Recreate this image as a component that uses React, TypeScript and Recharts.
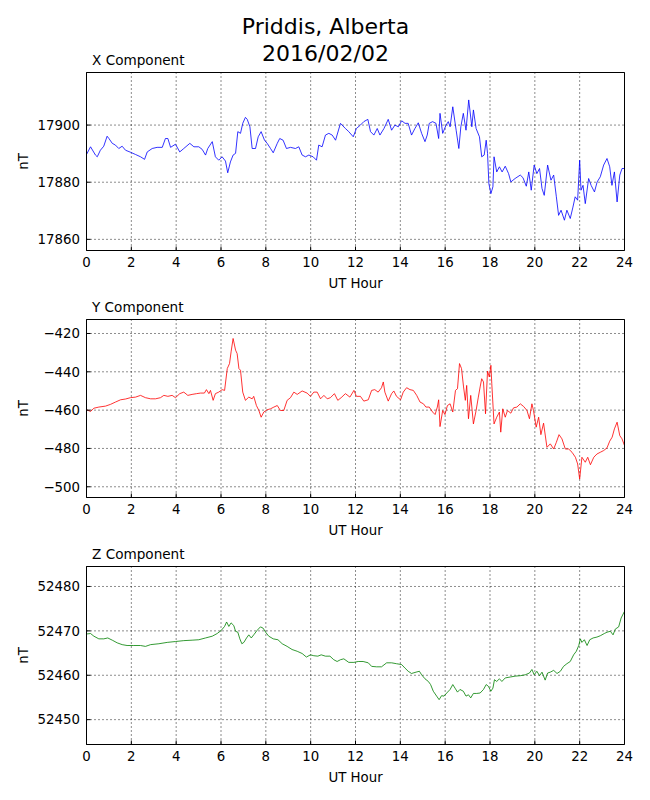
import React from 'react';
import { LineChart, Line, XAxis, YAxis, CartesianGrid } from 'recharts';

// ---------- data ----------
const hourTicks = [0, 2, 4, 6, 8, 10, 12, 14, 16, 18, 20, 22, 24];
const minorHourTicks = [1, 3, 5, 7, 9, 11, 13, 15, 17, 19, 21, 23];

const xTicks = [17860, 17880, 17900];
const yTicks = [-500, -480, -460, -440, -420];
const zTicks = [52450, 52460, 52470, 52480];

const xHours = [
  0.0, 0.18, 0.4, 0.48, 0.62, 0.77, 0.92, 1.0, 1.15, 1.29, 1.44, 1.59, 1.74, 1.96, 2.19, 2.41, 2.59, 2.71, 2.93,
  3.15, 3.38, 3.52, 3.63, 3.75, 3.97, 4.16, 4.34, 4.61, 4.79, 5.01, 5.16, 5.31, 5.41, 5.61, 5.75, 5.9, 6.05, 6.2,
  6.3, 6.42, 6.54, 6.65, 6.75, 6.87, 6.97, 7.09, 7.17, 7.29, 7.39, 7.54, 7.66, 7.79, 7.94, 8.06, 8.21, 8.33, 8.51,
  8.62, 8.77, 8.92, 9.1, 9.32, 9.47, 9.62, 9.77, 9.92, 10.11, 10.26, 10.36, 10.51, 10.66, 10.81, 10.96, 11.11,
  11.33, 11.55, 11.7, 11.9, 12.04, 12.22, 12.37, 12.55, 12.67, 12.82, 12.97, 13.09, 13.27, 13.46, 13.61, 13.76,
  13.91, 14.06, 14.21, 14.35, 14.5, 14.65, 14.8, 14.95, 15.1, 15.2, 15.29, 15.44, 15.59, 15.71, 15.77, 15.89,
  16.04, 16.14, 16.22, 16.34, 16.49, 16.61, 16.7, 16.81, 16.93, 17.05, 17.19, 17.26, 17.38, 17.53, 17.63, 17.74,
  17.83, 17.89, 17.95, 18.04, 18.13, 18.18, 18.3, 18.42, 18.54, 18.68, 18.83, 18.93, 19.12, 19.35, 19.47, 19.62,
  19.73, 19.84, 19.97, 20.09, 20.21, 20.32, 20.42, 20.57, 20.72, 20.84, 20.96, 21.06, 21.17, 21.32, 21.43, 21.58,
  21.7, 21.8, 21.91, 22.0, 22.06, 22.15, 22.25, 22.4, 22.51, 22.66, 22.78, 22.92, 23.07, 23.22, 23.34, 23.44,
  23.55, 23.67, 23.79, 23.89, 24.0,
];
const xValues = [
  17889.7, 17892.4, 17889.5, 17888.9, 17891.2, 17892.6, 17896.1, 17895.3, 17893.6, 17893.0, 17891.8, 17892.6,
  17891.2, 17890.5, 17889.7, 17888.9, 17888.0, 17890.6, 17891.8, 17892.2, 17892.2, 17895.3, 17895.3, 17892.2,
  17893.3, 17890.6, 17891.8, 17893.6, 17892.4, 17892.4, 17891.5, 17889.5, 17891.8, 17894.2, 17888.9, 17887.7,
  17888.9, 17887.4, 17883.3, 17887.1, 17889.5, 17890.1, 17897.7, 17897.1, 17900.6, 17902.7, 17902.0, 17899.4,
  17891.8, 17891.8, 17895.9, 17897.7, 17894.7, 17893.6, 17891.8, 17890.3, 17893.6, 17895.3, 17894.7, 17891.8,
  17892.2, 17891.8, 17892.4, 17889.5, 17888.9, 17889.5, 17888.9, 17887.7, 17893.0, 17892.4, 17896.5, 17897.1,
  17896.5, 17894.7, 17900.6, 17898.8, 17897.7, 17895.9, 17898.8, 17900.0, 17901.2, 17902.0, 17897.7, 17896.5,
  17898.8, 17896.5, 17898.8, 17902.0, 17898.2, 17900.0, 17899.4, 17901.5, 17900.6, 17900.6, 17896.5, 17898.8,
  17900.8, 17897.1, 17894.2, 17896.5, 17900.6, 17901.2, 17900.6, 17895.3, 17904.1, 17897.1, 17900.0, 17901.2,
  17899.4, 17906.4, 17898.2, 17891.8, 17899.4, 17904.1, 17898.2, 17908.8, 17899.4, 17905.3, 17898.8, 17895.9,
  17888.9, 17889.5, 17894.7, 17890.1, 17879.5, 17876.0, 17878.4, 17888.9, 17883.6, 17885.4, 17883.6, 17885.6,
  17883.0, 17880.1, 17881.3, 17882.5, 17881.6, 17878.6, 17883.6, 17877.2, 17886.0, 17883.0, 17884.8, 17877.8,
  17875.4, 17886.0, 17880.7, 17882.5, 17874.9, 17868.4, 17870.2, 17866.7, 17870.2, 17867.3, 17871.3, 17874.9,
  17873.7, 17887.7, 17877.2, 17878.9, 17872.5, 17881.3, 17878.9, 17876.6, 17880.1, 17881.9, 17886.0, 17888.3,
  17885.4, 17878.9, 17883.6, 17873.1, 17882.5, 17884.8, 17884.8,
];

const yHours = [
  0.0, 0.18, 0.33, 0.55, 0.85, 1.07, 1.29, 1.52, 1.74, 1.96, 2.19, 2.41, 2.63, 2.86, 3.08, 3.3, 3.45, 3.63, 3.82,
  3.97, 4.16, 4.34, 4.52, 4.71, 4.91, 5.09, 5.26, 5.35, 5.46, 5.53, 5.65, 5.75, 5.9, 6.05, 6.16, 6.28, 6.38, 6.45,
  6.54, 6.65, 6.72, 6.8, 6.87, 6.97, 7.09, 7.24, 7.39, 7.46, 7.58, 7.69, 7.79, 7.91, 8.06, 8.21, 8.36, 8.51, 8.65,
  8.8, 8.95, 9.1, 9.25, 9.4, 9.62, 9.84, 9.99, 10.14, 10.29, 10.44, 10.59, 10.74, 10.88, 11.06, 11.21, 11.36,
  11.55, 11.75, 11.93, 12.04, 12.22, 12.37, 12.57, 12.72, 12.86, 13.01, 13.16, 13.24, 13.31, 13.46, 13.61, 13.71,
  13.83, 14.01, 14.13, 14.28, 14.43, 14.58, 14.73, 14.88, 15.03, 15.14, 15.29, 15.44, 15.55, 15.65, 15.71, 15.77,
  15.89, 15.99, 16.1, 16.22, 16.34, 16.46, 16.55, 16.64, 16.73, 16.82, 16.9, 16.96, 17.04, 17.14, 17.26, 17.38,
  17.48, 17.56, 17.63, 17.71, 17.8, 17.89, 17.97, 18.04, 18.08, 18.18, 18.3, 18.42, 18.48, 18.57, 18.68, 18.78,
  18.93, 19.05, 19.2, 19.35, 19.5, 19.65, 19.76, 19.87, 19.94, 20.06, 20.17, 20.27, 20.39, 20.54, 20.69, 20.84,
  20.96, 21.08, 21.21, 21.36, 21.51, 21.66, 21.81, 21.91, 22.0, 22.1, 22.25, 22.36, 22.48, 22.63, 22.77, 22.92,
  23.07, 23.22, 23.34, 23.45, 23.55, 23.67, 23.79, 23.89, 24.0,
];
const yValues = [
  -459.8, -460.7, -459.0, -458.4, -457.9, -457.0, -455.8, -454.6, -454.2, -453.5, -453.2, -452.3, -453.5, -454.1,
  -454.1, -453.5, -452.3, -452.8, -452.3, -453.5, -451.4, -450.6, -452.3, -451.8, -451.4, -451.1, -451.1, -449.3,
  -451.4, -449.7, -454.9, -451.4, -450.6, -449.3, -449.7, -438.3, -435.7, -429.6, -422.6, -428.7, -430.5, -438.3,
  -439.2, -450.6, -454.9, -453.2, -454.1, -452.8, -457.6, -460.2, -463.7, -461.0, -459.8, -459.3, -458.4, -457.6,
  -460.2, -460.2, -454.9, -453.5, -450.6, -451.8, -450.0, -451.1, -452.8, -450.6, -450.6, -454.1, -452.3, -454.1,
  -453.5, -451.4, -454.9, -453.5, -451.4, -453.2, -449.7, -452.8, -452.8, -455.3, -454.6, -449.7, -449.3, -450.6,
  -448.3, -445.3, -450.6, -455.3, -451.4, -450.0, -452.8, -454.6, -450.6, -448.3, -449.3, -449.7, -452.3, -455.8,
  -456.7, -458.4, -458.4, -461.0, -462.3, -458.4, -454.6, -468.6, -460.2, -462.3, -457.6, -456.7, -461.0, -449.7,
  -448.8, -435.7, -438.3, -447.9, -454.9, -447.1, -464.5, -452.3, -467.2, -460.2, -453.2, -447.9, -443.6, -445.3,
  -461.9, -439.6, -442.7, -436.6, -446.2, -467.2, -463.7, -461.0, -471.5, -459.3, -463.7, -460.2, -461.6, -458.8,
  -458.4, -456.7, -458.1, -460.2, -464.5, -456.7, -460.2, -468.9, -463.7, -472.8, -466.8, -479.4, -477.6, -480.3,
  -476.8, -472.8, -475.0, -480.3, -480.3, -482.0, -484.6, -488.1, -496.0, -484.6, -487.2, -484.6, -488.5, -484.6,
  -482.9, -482.0, -481.1, -479.7, -476.2, -474.1, -469.8, -466.3, -473.3, -475.0, -478.5,
];

const zHours = [
  0.0, 0.18, 0.33, 0.55, 0.77, 0.95, 1.15, 1.37, 1.59, 1.81, 2.11, 2.41, 2.63, 2.86, 3.23, 3.6, 3.97, 4.34, 4.71,
  5.01, 5.31, 5.61, 5.83, 6.01, 6.16, 6.25, 6.35, 6.45, 6.57, 6.65, 6.75, 6.84, 6.93, 7.02, 7.14, 7.24, 7.35, 7.46,
  7.61, 7.76, 7.88, 7.99, 8.13, 8.33, 8.54, 8.73, 8.95, 9.17, 9.4, 9.62, 9.81, 9.99, 10.14, 10.32, 10.47, 10.66,
  10.86, 11.03, 11.18, 11.33, 11.48, 11.7, 11.93, 12.12, 12.34, 12.57, 12.72, 12.94, 13.16, 13.39, 13.61, 13.83,
  14.06, 14.21, 14.35, 14.5, 14.7, 14.85, 14.95, 15.1, 15.25, 15.35, 15.47, 15.62, 15.73, 15.84, 15.95, 16.07,
  16.22, 16.34, 16.44, 16.55, 16.66, 16.81, 16.93, 17.04, 17.14, 17.26, 17.41, 17.56, 17.71, 17.83, 17.93, 18.04,
  18.13, 18.2, 18.3, 18.42, 18.53, 18.68, 18.9, 19.12, 19.35, 19.57, 19.76, 19.87, 19.97, 20.09, 20.21, 20.32,
  20.46, 20.57, 20.69, 20.84, 20.99, 21.14, 21.28, 21.43, 21.58, 21.73, 21.85, 21.96, 22.03, 22.1, 22.21, 22.33,
  22.45, 22.6, 22.77, 22.92, 23.1, 23.22, 23.37, 23.49, 23.59, 23.74, 23.85, 24.0,
];
const zValues = [
  52469.3, 52469.4, 52468.8, 52468.2, 52468.2, 52468.4, 52467.9, 52467.3, 52466.9, 52466.7, 52466.7, 52466.7,
  52466.5, 52466.9, 52467.1, 52467.4, 52467.6, 52467.8, 52467.9, 52468.0, 52468.4, 52468.8, 52469.4, 52470.1,
  52471.0, 52472.0, 52471.0, 52471.8, 52471.2, 52469.9, 52469.7, 52468.2, 52467.1, 52467.4, 52468.4, 52469.1,
  52468.4, 52469.1, 52470.1, 52470.9, 52470.6, 52469.7, 52468.8, 52468.2, 52468.0, 52467.1, 52466.5, 52465.8,
  52465.4, 52464.9, 52464.1, 52464.6, 52464.4, 52464.3, 52464.6, 52464.3, 52464.3, 52463.5, 52463.1, 52463.5,
  52463.7, 52462.9, 52462.9, 52463.1, 52463.1, 52462.8, 52462.0, 52461.9, 52461.9, 52462.8, 52462.8, 52462.6,
  52462.4, 52461.6, 52460.9, 52460.4, 52460.7, 52460.9, 52460.1, 52459.2, 52458.6, 52457.9, 52456.4, 52455.3,
  52454.5, 52455.4, 52455.3, 52456.0, 52456.8, 52457.9, 52457.1, 52456.2, 52456.8, 52456.4, 52455.3, 52455.6,
  52454.9, 52455.9, 52455.9, 52456.0, 52456.8, 52457.9, 52457.5, 52456.4, 52457.1, 52459.0, 52458.6, 52459.2,
  52458.6, 52459.4, 52459.6, 52459.8, 52459.9, 52460.1, 52460.5, 52461.3, 52460.1, 52460.9, 52459.9, 52460.7,
  52458.9, 52460.5, 52460.7, 52461.1, 52460.4, 52460.9, 52462.0, 52462.6, 52463.1, 52464.6, 52465.4, 52466.7,
  52468.2, 52467.4, 52468.0, 52466.7, 52468.0, 52468.4, 52468.6, 52468.9, 52469.4, 52469.7, 52469.9, 52469.1,
  52470.4, 52470.9, 52472.9, 52474.4,
];

// ---------- helpers ----------
const toRows = (hours: number[], values: number[]) => hours.map((h, i) => ({ h, v: values[i] }));
const xData = toRows(xHours, xValues);
const yData = toRows(yHours, yValues);
const zData = toRows(zHours, zValues);

const FONT = 'DejaVu Sans';
const FS = 13.33;
const W = 650;
const H = 300;
const TINY = 0.001;
const MARGIN = { top: 72.5 - 2 * TINY, bottom: 49.5 - 2 * TINY, left: 86.5 - TINY, right: 25.5 - TINY };

const fmt = (v: number) => String(v).replace('-', '\u2212');

const NtLabel = () => (
  <text
    x={27.5}
    y={161.5}
    transform="rotate(-90 27.5 161.5)"
    textAnchor="middle"
    fontSize={FS}
    fontFamily={FONT}
    fill="#000"
  >
    nT
  </text>
);

type PanelProps = {
  data: { h: number; v: number }[];
  domain: [number, number];
  ticks: number[];
  color: string;
  top: number;
};

const Panel = ({ data, domain, ticks, color, top }: PanelProps) => (
  <div style={{ position: 'absolute', left: 0, top }}>
    <LineChart width={W} height={H} data={data} margin={MARGIN}>
      <CartesianGrid stroke="#000" strokeWidth={0.9} strokeDasharray="1 3" />
      <XAxis
        dataKey="h"
        type="number"
        domain={[0, 24]}
        ticks={hourTicks}
        height={TINY}
        tickSize={-4}
        tickMargin={11.3}
        interval={0}
        axisLine={{ stroke: '#000', strokeWidth: 1 }}
        tickLine={{ stroke: '#000', strokeWidth: 1 }}
        tick={{ fill: '#000', fontSize: FS, fontFamily: FONT }}
        label={{ value: 'UT Hour', position: 'bottom', offset: 28.5, fill: '#000', fontSize: FS, fontFamily: FONT }}
      />
      <XAxis
        xAxisId="minor"
        dataKey="h"
        type="number"
        domain={[0, 24]}
        ticks={minorHourTicks}
        height={TINY}
        tickSize={-2}
        interval={0}
        axisLine={false}
        tickLine={{ stroke: '#000', strokeWidth: 1 }}
        tick={false}
      />
      <XAxis
        xAxisId="top"
        orientation="top"
        dataKey="h"
        type="number"
        domain={[0, 24]}
        ticks={hourTicks}
        height={TINY}
        tickSize={-4}
        interval={0}
        axisLine={{ stroke: '#000', strokeWidth: 1 }}
        tickLine={{ stroke: '#000', strokeWidth: 1 }}
        tick={false}
      />
      <XAxis
        xAxisId="topminor"
        orientation="top"
        dataKey="h"
        type="number"
        domain={[0, 24]}
        ticks={minorHourTicks}
        height={TINY}
        tickSize={-2}
        interval={0}
        axisLine={false}
        tickLine={{ stroke: '#000', strokeWidth: 1 }}
        tick={false}
      />
      <YAxis
        type="number"
        domain={domain}
        ticks={ticks}
        width={TINY}
        tickSize={-4}
        tickMargin={10.5}
        interval={0}
        tickFormatter={fmt}
        axisLine={{ stroke: '#000', strokeWidth: 1 }}
        tickLine={{ stroke: '#000', strokeWidth: 1 }}
        tick={{ fill: '#000', fontSize: FS, fontFamily: FONT }}
        label={{ content: NtLabel }}
      />
      <YAxis
        yAxisId="right"
        orientation="right"
        type="number"
        domain={domain}
        ticks={ticks}
        width={TINY}
        tickSize={-4}
        interval={0}
        axisLine={{ stroke: '#000', strokeWidth: 1 }}
        tickLine={{ stroke: '#000', strokeWidth: 1 }}
        tick={false}
      />
      <Line
        type="linear"
        dataKey="v"
        stroke={color}
        strokeWidth={0.8}
        dot={false}
        activeDot={false}
        isAnimationActive={false}
      />
    </LineChart>
  </div>
);

export default function App() {
  return (
    <div
      style={{
        position: 'absolute',
        left: 0,
        top: 0,
        width: 650,
        height: 800,
        background: '#fff',
        fontFamily: FONT,
      }}
    >
      <Panel data={xData} domain={[17856.1, 17918.4]} ticks={xTicks} color="#0000ff" top={0} />
      <Panel data={yData} domain={[-505.6, -412.7]} ticks={yTicks} color="#ff0000" top={247} />
      <Panel data={zData} domain={[52444.4, 52484.5]} ticks={zTicks} color="#008000" top={494} />
      <svg
        width={650}
        height={800}
        style={{ position: 'absolute', left: 0, top: 0, pointerEvents: 'none' }}
      >
        <text x={325.5} y={34} textAnchor="middle" fontSize={22} fontFamily={FONT} fill="#000">
          Priddis, Alberta
        </text>
        <text x={325.5} y={61} textAnchor="middle" fontSize={22} fontFamily={FONT} fill="#000">
          2016/02/02
        </text>
        <text x={92} y={64.5} fontSize={13.6} fontFamily={FONT} fill="#000">
          X Component
        </text>
        <text x={92} y={311.5} fontSize={13.6} fontFamily={FONT} fill="#000">
          Y Component
        </text>
        <text x={92} y={558.5} fontSize={13.6} fontFamily={FONT} fill="#000">
          Z Component
        </text>
      </svg>
    </div>
  );
}
